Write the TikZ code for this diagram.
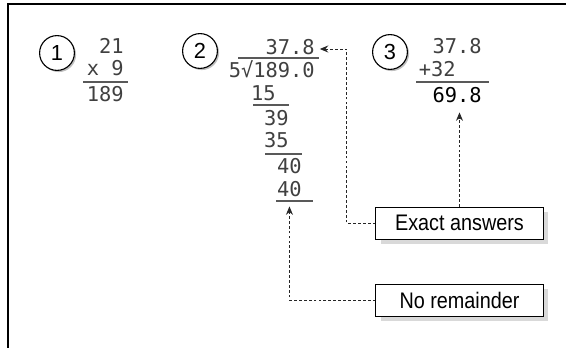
\documentclass[tikz,border=0pt]{standalone}
\usepackage{fontspec}
\setmainfont{Liberation Sans}
\newfontfamily\digitfont{DejaVu Sans Mono}
\newfontfamily\labelfont{Liberation Sans}[FakeStretch=0.88]
\usetikzlibrary{arrows.meta, positioning, shadows}

\begin{document}
\begin{tikzpicture}[
    x=0.025cm, y=-0.025cm,
    num/.style={
        anchor=east, inner sep=0pt,
        text height=0.73em, text depth=0pt,
        font=\digitfont\fontsize{14.5}{16}\selectfont,
        text=black!75
    },
    stepno/.style={
        circle, draw, line width=0.8pt,
        minimum size=0.87cm, inner sep=0pt,
        fill=white,
        font=\fontsize{15.5}{17}\selectfont,
        drop shadow={shadow xshift=1.2pt, shadow yshift=-1.2pt, fill=black!25, opacity=1}
    },
    rule/.style={black!65, line width=1pt},
    callout/.style={
        rectangle, draw, line width=0.7pt,
        minimum width=4.175cm, minimum height=0.8cm,
        fill=white,
        font=\labelfont\fontsize{16}{18}\selectfont,
        drop shadow={shadow xshift=0.125cm, shadow yshift=-0.125cm, fill=black!15, opacity=1}
    },
    pointer/.style={-{Stealth[length=6pt, width=5pt]}, dash pattern=on 2pt off 1.5pt, black!85, line width=0.7pt},
]
\useasboundingbox (0,0) rectangle (566,348);

% Frame
\draw [line width=1.4pt] (8,348) -- (8,4) -- (566,4);

% Step numbers
\node (one)   [stepno] at (57,53)  {1};
\node (two)   [stepno] at (200,51) {2};
\node (three) [stepno] at (390,52) {3};

% Step 1: multiplication
\node (a1) [num] at (124,48) {21};
\node (a2) [num] at (124,70) {x 9};
\node (a3) [num] at (124,96) {189};
\draw [rule] (83,82) -- (128,82);

% Step 2: long division
\node (b1) [num] at (315,49)  {37.8};
\node (b2) [num] at (315,72)  {5√189.0};
\node (b3) [num] at (276,95)  {15};
\node (b4) [num] at (289,120) {39};
\node (b5) [num] at (289,142) {35};
\node (b6) [num] at (302,168) {40};
\node (b7) [num] at (302,191) {40};
\draw [rule] (238,58) -- (319,58);
\draw [rule] (253,105) -- (289,105);
\draw [rule] (265,154) -- (302,154);
\draw [rule] (276,201) -- (313,201);

% Step 3: addition
\node (c1) [num] at (482,48) {37.8};
\node (c2) [num] at (456,71) {+32};
\node (c3) [num, text=black] at (482,97) {69.8};
\draw [rule] (416,82) -- (489,82);

% Callouts
\node (exact) [callout] at (459.5,223) {Exact answers};
\node (norem) [callout, below=1.1cm of exact] {No remainder};

% Arrows
\draw [pointer] (exact.west) -- ++(-29,0) |- ([xshift=0.12cm]b1.east);
\draw [pointer] (exact.north) -- ([yshift=-0.25cm]exact.north |- c3.south);
\draw [pointer] (norem.west) -| ([yshift=-0.25cm]b7.south);

\end{tikzpicture}
\end{document}
